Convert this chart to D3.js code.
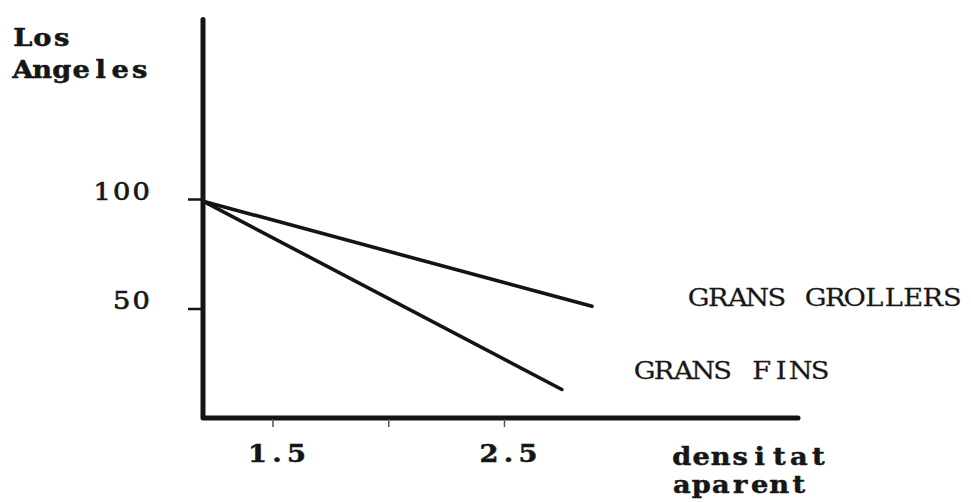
<!DOCTYPE html>
<html>
<head>
<meta charset="utf-8">
<script src="https://cdn.jsdelivr.net/npm/d3@7"></script>
<style>
  html, body { margin: 0; padding: 0; background: #fff; }
  svg { display: block; }
  text { font-family: "DejaVu Serif", "Liberation Serif", serif; fill: #161616; }
</style>
</head>
<body>
<svg id="chart" width="971" height="502"></svg>
<script>
// ---- data ----
const seriesNames = ["GRANS GROLLERS", "GRANS FINS"];
const densitat = [1.2, 2.88];          // x values (grollers)
const densitatFins = [1.2, 2.75];      // x values (fins)
const grollers = [99, 51];             // y values
const fins = [99, 13];                 // y values
const xTicks = [1.5, 2.0, 2.5];
const xTickLabels = ["1.5", "", "2.5"];
const yTicks = [50, 100];
const yTickLabels = ["50", "100"];
const yTitle = ["Los", "Angeles"];
const xTitle = ["densitat", "aparent"];
const xMin = 1.2, xMax = 3.77, yMin = 0, yMax = 182;

// ---- drawing ----
const svg = d3.select("#chart");
svg.append("rect").attr("width", 971).attr("height", 502).attr("fill", "#fff");

const x = d3.scaleLinear().domain([1.2, 2.5]).range([203, 504]);
const y = d3.scaleLinear().domain([0, 100]).range([418, 199]);

const ink = "#141414";
const pitch = 19.5;     // typewriter character pitch
const fs = 23.5;
const sx = 1.16;        // horizontal widening for typewriter glyphs

// each character centred in a fixed-pitch cell (typewriter look)
function typeText(parent, str, left, baseline, bold) {
  const xs = Array.from(str).map((c, i) => (pitch * (i + 0.5) / sx).toFixed(2)).join(" ");
  const t = parent.append("text")
    .attr("transform", `translate(${left},${baseline}) scale(${sx},1)`)
    .attr("x", xs).attr("y", 0)
    .attr("text-anchor", "middle")
    .attr("font-size", fs)
    .attr("font-weight", bold ? "bold" : "normal")
    .text(str);
  if (bold) t.attr("stroke", "#161616").attr("stroke-width", 0.5);
  else t.attr("stroke", "#262626").attr("stroke-width", 0.25);
  return t;
}

// axes frame (L-shape)
svg.append("path")
  .attr("d", d3.line()([[x(xMin), y(yMax)], [x(xMin), y(yMin)], [x(xMax), y(yMin)]]))
  .attr("fill", "none").attr("stroke", ink).attr("stroke-width", 5)
  .attr("stroke-linejoin", "round").attr("stroke-linecap", "round");

// y axis ticks
const yAxis = d3.axisLeft(y).tickValues(yTicks).tickSize(15).tickFormat("");
const gy = svg.append("g").attr("transform", `translate(${x(xMin)},0)`).call(yAxis);
gy.select(".domain").remove();
gy.selectAll(".tick text").remove();
gy.selectAll(".tick line").attr("stroke", ink).attr("stroke-width", 2.5);
gy.selectAll(".tick").each(function(d, i) {
  const s = yTickLabels[i];
  typeText(d3.select(this), s, -52 - pitch * s.length, 0, false)
    .attr("fill", "#1c1c1c").attr("stroke-width", 0.7).attr("stroke", "#1c1c1c");
});

// x axis ticks
const xAxis = d3.axisBottom(x).tickValues(xTicks).tickSize(8).tickFormat("");
const gx = svg.append("g").attr("transform", `translate(0,${y(0) + 1})`).call(xAxis);
gx.select(".domain").remove();
gx.selectAll(".tick text").remove();
gx.selectAll(".tick line").attr("stroke", "#555").attr("stroke-width", 1.5);
gx.selectAll(".tick").each(function(d, i) {
  const s = xTickLabels[i];
  if (s) typeText(d3.select(this), s, -pitch * s.length / 2 + 4, 43, true);
});

// series lines
const line = d3.line().x(d => x(d[0])).y(d => y(d[1]));
const seriesData = [
  d3.zip(densitat, grollers),
  d3.zip(densitatFins, fins)
];
svg.selectAll("path.series").data(seriesData).join("path")
  .attr("class", "series")
  .attr("d", line)
  .attr("fill", "none").attr("stroke", ink).attr("stroke-width", 3.6)
  .attr("stroke-linecap", "round");

// series labels
const labelOffsets = [[97, 0], [73, -11]];
seriesData.forEach((d, i) => {
  const last = d[d.length - 1];
  typeText(svg, seriesNames[i], x(last[0]) + labelOffsets[i][0], y(last[1]) + labelOffsets[i][1], false)
    .attr("fill", "#262626");
});

// y title
yTitle.forEach((s, i) => typeText(svg, s, 13, 46 + i * 32, true));

// x title
xTitle.forEach((s, i) => typeText(svg, s, 672, 465 + i * 28, true));
</script>
</body>
</html>
